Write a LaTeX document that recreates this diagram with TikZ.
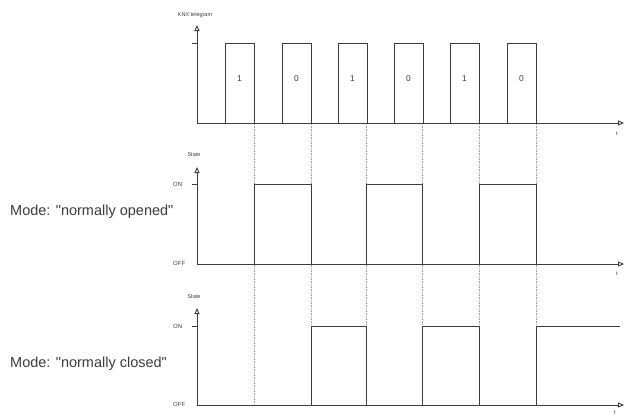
\documentclass[tikz,border=0pt]{standalone}
\usepackage{fontspec}
\setmainfont{Liberation Sans}[Ligatures=TeXOff]
\usetikzlibrary{arrows.meta,positioning}
\definecolor{SigGray}{RGB}{60,60,60}
\definecolor{GuideGray}{RGB}{160,160,160}
\tikzset{
  axis/.style={-{Triangle[open,length=6pt,width=5pt]}, line width=0.9pt, SigGray},
  sig/.style={line width=1pt, SigGray},
  guide/.style={densely dotted, GuideGray, line width=0.6pt},
  tinylbl/.style={font=\fontsize{5.5}{6.5}\selectfont, text=SigGray, inner sep=0pt},
  levlbl/.style={font=\fontsize{6}{7}\selectfont, text=SigGray, inner sep=0pt, anchor=west},
  bitlbl/.style={font=\fontsize{8.5}{9}\selectfont, text=SigGray, inner sep=0pt},
  modelbl/.style={font=\fontsize{14.5}{16}\selectfont, text=SigGray, inner sep=0pt, anchor=west},
}

\begin{document}
\begin{tikzpicture}[x=1pt, y=-1pt]
  \useasboundingbox (0,0) rectangle (626,416);

  % KNX telegram
  \draw[axis] (197,123) -- (197,25);
  \draw[axis] (197,123) -- (624,123);
  \draw[sig] (192,43) -- (197,43);
  \node[tinylbl] (knx) at (195,15) {KNX telegram};
  \node[tinylbl] (t1) at (617,134) {t};
  \foreach \x/\b in {225/1,282/0,338/1,394/0,450/1,507/0} {
    \draw[sig] (\x,123) |- (\x+29,43) -- (\x+29,123);
    \node[bitlbl] at (\x+14.5,79) {\b};
  }

  % guides
  \foreach \x in {254,311,366,422,479,536}
    \draw[guide] (\x,124) -- (\x,404);

  % normally opened
  \node[modelbl] (mno) at (10,212) {Mode: "normally opened"};
  \draw[axis] (197,264) -- (197,167);
  \draw[axis] (197,264) -- (624,264);
  \draw[sig] (192,184) -- (197,184);
  \node[tinylbl] (st1) at (194,155) {State};
  \node[levlbl] (on1) at (173,184) {ON};
  \node[levlbl] (off1) at (173,263) {OFF};
  \node[tinylbl] (t2) at (617,274) {t};
  \foreach \a/\b in {254/311,366/422,479/536}
    \draw[sig] (\a,264) |- (\b,184) -- (\b,264);

  % normally closed
  \node[modelbl] (mnc) at (10,364) {Mode: "normally closed"};
  \draw[axis] (197,405) -- (197,308);
  \draw[axis] (197,405) -- (624,405);
  \draw[sig] (192,326) -- (197,326);
  \node[tinylbl] (st2) at (194,297) {State};
  \node[levlbl] (on2) at (173,326) {ON};
  \node[levlbl] (off2) at (173,404) {OFF};
  \node[tinylbl] (t3) at (615,413) {t};
  \foreach \a/\b in {311/366,422/479}
    \draw[sig] (\a,405) |- (\b,326) -- (\b,405);
  \draw[sig] (536,405) |- (620,326);
\end{tikzpicture}
\end{document}
